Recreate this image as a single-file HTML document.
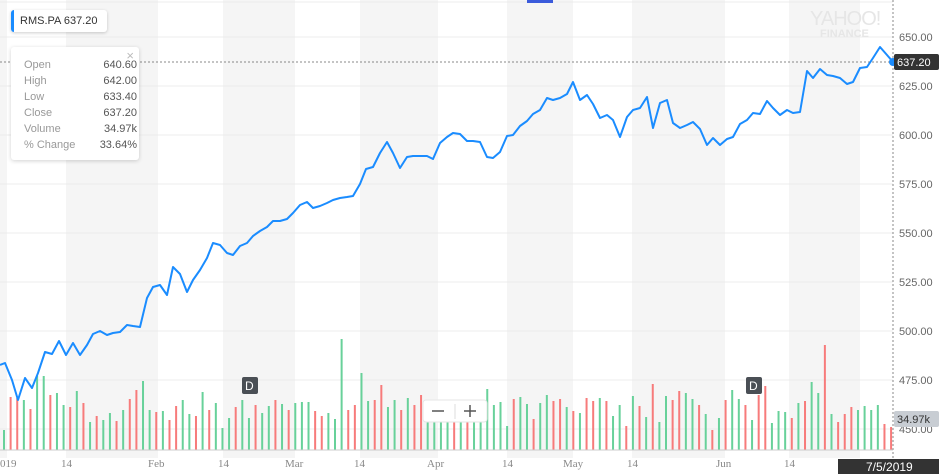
<!DOCTYPE html>
<html><head><meta charset="utf-8"><style>
body{margin:0;width:939px;height:474px;overflow:hidden;background:#fff;font-family:"Liberation Sans",sans-serif;}
svg{position:absolute;left:0;top:0}
.lg{position:absolute;left:11px;top:10px;width:96px;height:22px;background:#fff;border-radius:3px;box-shadow:0 1px 3px rgba(0,0,0,.2);font-size:11px;color:#333;line-height:22px;}
.lg:before{content:"";position:absolute;left:0;top:0;width:3px;height:22px;background:#1a8cff;border-radius:3px 0 0 3px}
.tt{position:absolute;left:11px;top:47px;width:128px;height:113px;background:#fff;border-radius:3px;box-shadow:0 1px 4px rgba(0,0,0,.18);font-size:11px;line-height:16px}
.tt .r{position:absolute;left:13px;width:113px}
.tt .k{color:#999}.tt .v{position:absolute;right:0;color:#555}
</style></head><body>
<svg width="939" height="474" id="s" font-family="Liberation Sans, sans-serif">
<g fill="#f5f5f5">
<rect x="0" y="0" width="7" height="458"/><rect x="66" y="0" width="92" height="458"/><rect x="223" y="0" width="72" height="458"/><rect x="360" y="0" width="78" height="458"/><rect x="507" y="0" width="66" height="458"/><rect x="632" y="0" width="93" height="458"/><rect x="789" y="0" width="71" height="458"/>
</g>
<g stroke="#ececec" stroke-width="1">
<line x1="0" y1="37" x2="893" y2="37"/><line x1="0" y1="86" x2="893" y2="86"/><line x1="0" y1="135" x2="893" y2="135"/><line x1="0" y1="184" x2="893" y2="184"/><line x1="0" y1="233" x2="893" y2="233"/><line x1="0" y1="282" x2="893" y2="282"/><line x1="0" y1="331" x2="893" y2="331"/><line x1="0" y1="380" x2="893" y2="380"/><line x1="0" y1="429" x2="893" y2="429"/>
<line x1="0" y1="2" x2="893" y2="2"/>
</g>
<text x="810" y="25" font-size="20" fill="#e6e6e6" letter-spacing="-1">YAHOO!</text>
<text x="820" y="37" font-size="11" fill="#e6e6e6" font-weight="bold">FINANCE</text>
<g id="bars"></g>
<line x1="0" y1="450" x2="893" y2="450" stroke="#ccc"/>
<line x1="893" y1="0" x2="893" y2="458" stroke="#888" stroke-dasharray="2,2"/>
<line x1="0" y1="62" x2="893" y2="62" stroke="#888" stroke-dasharray="2,2"/>
<polyline fill="none" stroke="#1a8cff" stroke-width="2" stroke-linejoin="round" points="0,365 5,363 12,380 18,400 25,378 32,388 38,373 45,352 52,354 59,341 66,355 73,343 80,355 87,345 93,334 100,331 107,335 113,333 120,332 127,325 133,326 140,327 147,298 153,287 160,285 167,295 173,267 180,274 187,292 193,280 200,270 207,258 213,243 220,245 227,253 233,255 240,246 247,243 253,236 260,231 267,227 273,221 280,221 287,219 293,213 300,205 307,202 313,208 320,206 327,203 333,200 340,198 347,197 353,196 360,184 366,169 373,167 380,153 387,142 393,153 400,168 407,157 413,156 420,156 427,156 433,159 440,143 447,137 453,133 460,134 467,141 473,141 480,142 487,157 493,158 500,152 507,136 513,135 520,126 527,121 533,114 540,110 547,98 553,100 560,98 567,94 573,82 580,100 587,95 593,104 600,118 607,115 613,120 620,137 627,117 633,110 640,108 647,97 653,128 660,103 667,100 673,123 680,128 687,125 693,122 700,129 707,145 713,138 720,145 727,139 733,137 740,124 747,120 753,113 760,114 767,101 773,108 780,115 787,110 793,113 800,112 807,71 813,78 820,69 827,75 833,76 840,78 847,84 853,82 860,68 867,67 873,58 880,47 887,55 893,62"/>
<circle cx="893" cy="62" r="4" fill="#1a8cff"/>
<g font-size="11" fill="#666">
<text x="899" y="41">650.00</text><text x="899" y="90">625.00</text><text x="899" y="139">600.00</text><text x="899" y="188">575.00</text><text x="899" y="237">550.00</text><text x="899" y="286">525.00</text><text x="899" y="335">500.00</text><text x="899" y="384">475.00</text><text x="899" y="433">450.00</text>
</g>
<rect x="894" y="54" width="45" height="16" rx="2" fill="#333"/><text x="897" y="66" font-size="11" fill="#fff">637.20</text>
<rect x="894" y="411" width="45" height="16" rx="2" fill="#c8cdd3"/><text x="897" y="423" font-size="11" fill="#333">34.97k</text>
<g font-size="11" fill="#888" font-family="Liberation Serif, serif">
<text x="0" y="467">019</text><text x="61" y="467">14</text><text x="148" y="467">Feb</text><text x="218" y="467">14</text><text x="285" y="467">Mar</text><text x="354" y="467">14</text><text x="427" y="467">Apr</text><text x="502" y="467">14</text><text x="563" y="467">May</text><text x="627" y="467">14</text><text x="716" y="467">Jun</text><text x="784" y="467">14</text>
</g>
<rect x="838" y="459" width="101" height="15" fill="#333"/><text x="866" y="471" font-size="12" fill="#fff">7/5/2019</text>
<rect x="242" y="377" width="16" height="17" rx="2" fill="#4a4f55"/><text x="245" y="390" font-size="12" fill="#fff">D</text>
<rect x="746" y="377" width="16" height="17" rx="2" fill="#4a4f55"/><text x="749" y="390" font-size="12" fill="#fff">D</text>
<rect x="423" y="400" width="64" height="22" rx="3" fill="#fff" stroke="#e6e6e6"/>
<line x1="432" y1="411" x2="444" y2="411" stroke="#555" stroke-width="1.5"/><line x1="455" y1="404" x2="455" y2="419" stroke="#ddd"/>
<line x1="464" y1="411" x2="476" y2="411" stroke="#555" stroke-width="1.5"/><line x1="470" y1="405" x2="470" y2="417" stroke="#555" stroke-width="1.5"/>
<rect x="527" y="0" width="26" height="3" fill="#3b5bdb"/>
</svg>
<div class="lg"><span style="margin-left:9px">RMS.PA</span> <span>637.20</span></div>
<div class="tt"><span style="position:absolute;right:5px;top:1px;color:#bbb;font-size:13px">×</span>
<div class="r" style="top:10px"><span class="k">Open</span><span class="v">640.60</span></div>
<div class="r" style="top:26px"><span class="k">High</span><span class="v">642.00</span></div>
<div class="r" style="top:42px"><span class="k">Low</span><span class="v">633.40</span></div>
<div class="r" style="top:58px"><span class="k">Close</span><span class="v">637.20</span></div>
<div class="r" style="top:74px"><span class="k">Volume</span><span class="v">34.97k</span></div>
<div class="r" style="top:90px"><span class="k">% Change</span><span class="v">33.64%</span></div>
</div>
<script>
var tops=[430,397,398,400,409,376,376,395,393,405,407,391,403,422,416,420,413,421,410,399,390,381,410,412,411,420,406,400,414,416,392,410,403,428,418,407,400,418,405,413,406,400,404,410,403,402,402,411,416,413,419,339,410,405,373,401,400,385,407,400,410,398,405,395,410,420,404,416,419,409,419,411,416,389,405,402,426,399,397,404,419,403,395,401,399,407,411,413,398,401,398,401,416,405,426,396,406,417,384,422,396,400,391,393,399,405,414,430,418,400,390,399,405,420,395,386,423,411,412,418,403,401,382,393,345,414,422,414,407,410,406,410,405,424,427,416];
var red=[0,1,1,0,1,0,0,1,0,0,1,0,1,0,1,0,0,1,0,1,1,0,0,1,0,1,1,0,0,1,0,1,0,0,0,1,0,0,1,0,0,1,0,1,0,0,0,1,1,0,0,0,1,1,0,0,1,1,0,0,1,0,1,1,0,0,0,0,1,0,1,0,0,0,0,0,0,1,0,0,1,0,0,1,1,0,1,0,1,1,0,1,0,0,1,0,1,0,1,0,0,1,1,0,0,1,0,1,0,1,0,0,1,0,1,1,0,0,0,1,0,1,0,0,1,0,1,1,1,0,0,0,0,1,1,0];
var g=document.getElementById('bars'),h='';
for(var i=0;i<tops.length;i++){var x=4+i*6.62;if(x>892)break;h+='<rect x="'+(x-1)+'" y="'+tops[i]+'" width="2" height="'+(450-tops[i])+'" fill="'+(red[i]?'#f77b7b':'#68d19a')+'"/>';}
g.innerHTML=h;
</script>
</body></html>
